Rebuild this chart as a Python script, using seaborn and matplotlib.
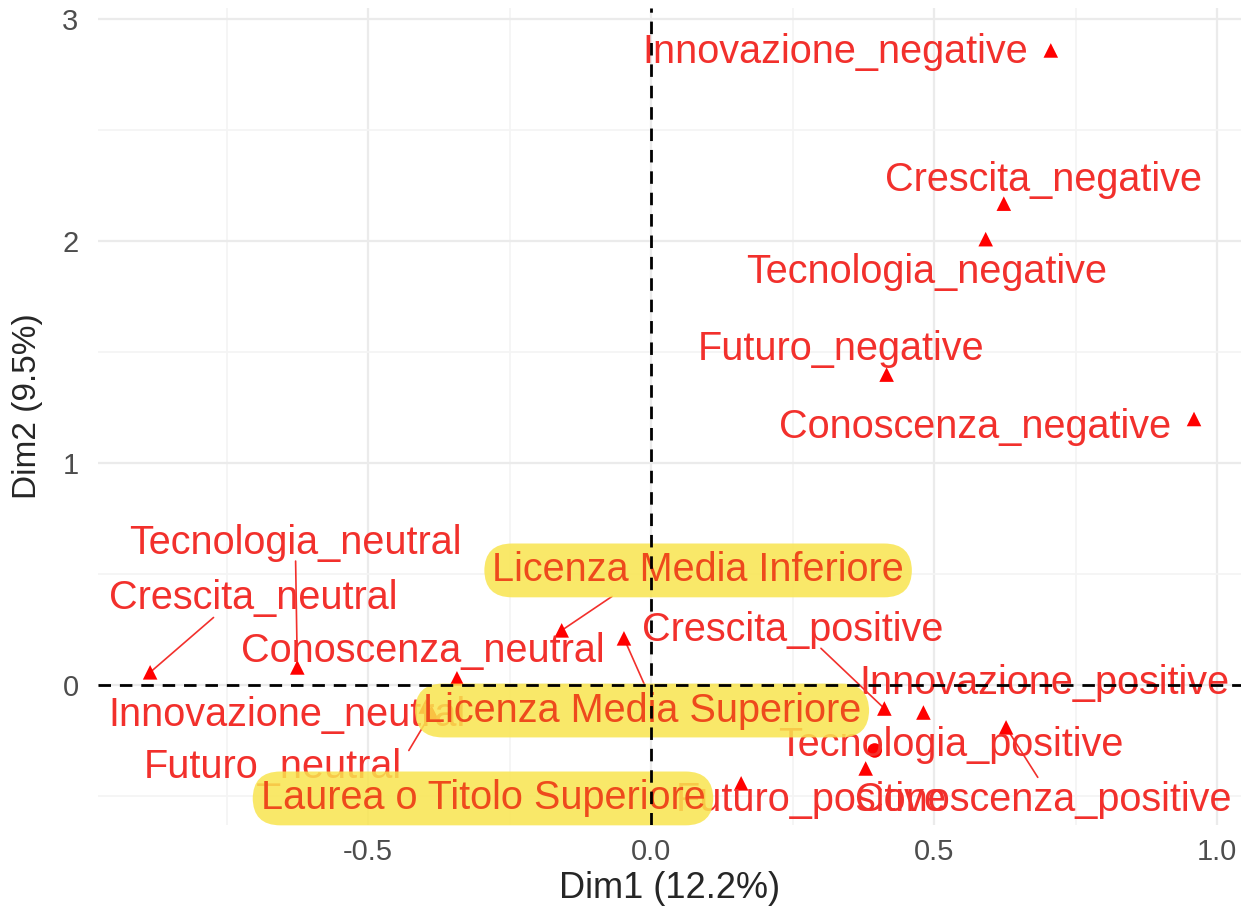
import matplotlib
matplotlib.use("Agg")
import matplotlib.pyplot as plt
import pandas as pd
import seaborn as sns

# active categories: coordinates on Dim1 / Dim2
categories = ["Innovazione_negative", "Crescita_negative", "Tecnologia_negative",
              "Futuro_negative", "Conoscenza_negative",
              "Tecnologia_neutral", "Crescita_neutral", "Conoscenza_neutral",
              "Innovazione_neutral", "Futuro_neutral",
              "Crescita_positive", "Innovazione_positive", "Conoscenza_positive",
              "Tecnologia_positive", "Futuro_positive"]
dim1 = [0.706, 0.623, 0.591, 0.416, 0.959,
        -0.625, -0.885, -0.343, -0.398, -0.388,
        0.412, 0.481, 0.627, 0.379, 0.159]
dim2 = [2.86, 2.17, 2.01, 1.40, 1.20,
        0.081, 0.059, 0.032, -0.095, -0.122,
        -0.104, -0.122, -0.189, -0.374, -0.441]

# supplementary categories (education level)
sup_names = ["Licenza Media Inferiore", "Licenza Media Superiore", "Laurea o Titolo Superiore"]
sup_dim1 = [-0.158, -0.048, 0.395]
sup_dim2 = [0.248, 0.212, -0.293]

xlabel = "Dim1 (12.2%)"
ylabel = "Dim2 (9.5%)"

# label placement (repel-like), in data units
label_pos = {
    "Innovazione_negative": (0.326, 2.851),
    "Crescita_negative": (0.694, 2.275),
    "Tecnologia_negative": (0.487, 1.860),
    "Futuro_negative": (0.336, 1.514),
    "Conoscenza_negative": (0.573, 1.162),
    "Tecnologia_neutral": (-0.628, 0.640),
    "Crescita_neutral": (-0.703, 0.392),
    "Conoscenza_neutral": (-0.404, 0.153),
    "Innovazione_neutral": (-0.644, -0.135),
    "Futuro_neutral": (-0.669, -0.369),
    "Crescita_positive": (0.250, 0.248),
    "Innovazione_positive": (0.694, 0.009),
    "Tecnologia_positive": (0.529, -0.270),
    "Futuro_positive": (0.283, -0.518),
    "Conoscenza_positive": (0.692, -0.518),
    "Licenza Media Inferiore": (0.083, 0.518),
    "Licenza Media Superiore": (-0.016, -0.113),
    "Laurea o Titolo Superiore": (-0.297, -0.509),
}
# connector start points for labels pushed away from their point
seg_start = {
    "Crescita_neutral": (-0.773, 0.306),
    "Tecnologia_neutral": (-0.628, 0.560),
    "Futuro_neutral": (-0.428, -0.293),
    "Licenza Media Inferiore": (-0.069, 0.401),
    "Licenza Media Superiore": (-0.012, 0.005),
    "Crescita_positive": (0.300, 0.167),
    "Conoscenza_positive": (0.683, -0.414),
}

RED = "#F2302C"
LAB_FONT = ["Liberation Sans", "DejaVu Sans"]

df = pd.DataFrame({"name": categories, "Dim1": dim1, "Dim2": dim2})
sup = pd.DataFrame({"name": sup_names, "Dim1": sup_dim1, "Dim2": sup_dim2})

sns.set_theme(style="whitegrid")
plt.rcParams["font.family"] = LAB_FONT

fig = plt.figure(figsize=(12.41, 9.17), dpi=100)
ax = fig.add_axes([0.079, 0.100, 0.921, 0.891])

sns.scatterplot(data=df, x="Dim1", y="Dim2", marker="^", s=110, color="red",
                edgecolor="none", ax=ax, zorder=3)
sns.scatterplot(data=sup.iloc[:2], x="Dim1", y="Dim2", marker="^", s=110, color="red",
                edgecolor="none", ax=ax, zorder=3)
sns.scatterplot(data=sup.iloc[2:], x="Dim1", y="Dim2", marker="o", s=110, color="red",
                edgecolor="none", ax=ax, zorder=3)

allpts = pd.concat([df, sup])
for name, (sx, sy) in seg_start.items():
    row = allpts[allpts["name"] == name].iloc[0]
    ax.plot([sx, row["Dim1"]], [sy, row["Dim2"]], color=RED, lw=1.2, zorder=2.5)

for name, (lx, ly) in label_pos.items():
    if name in sup_names:
        ax.text(lx, ly, name, ha="center", va="center", fontsize=28.5, color="#EE4A1C",
                zorder=4,
                bbox=dict(boxstyle="round,pad=0.2,rounding_size=0.7",
                          fc="#F9E54F", ec="none", alpha=0.85))
    else:
        ax.text(lx, ly, name, ha="center", va="center", fontsize=28.5, color=RED, zorder=4)

ax.axhline(0, color="black", ls=(0, (4.5, 3.2)), lw=2.0, zorder=5)
ax.axvline(0, color="black", ls=(0, (4.5, 3.2)), lw=2.0, zorder=5)

ax.set_xlim(-0.977, 1.042)
ax.set_ylim(-0.63, 3.05)
ax.set_xticks([-0.5, 0.0, 0.5, 1.0])
ax.set_xticklabels(["-0.5", "0.0", "0.5", "1.0"])
ax.set_yticks([0, 1, 2, 3])
ax.set_xticks([-0.75, -0.25, 0.25, 0.75], minor=True)
ax.set_yticks([-0.5, 0.5, 1.5, 2.5], minor=True)
ax.grid(which="major", color="#EBEBEB", lw=1.6)
ax.grid(which="minor", color="#F4F4F4", lw=1.2)
for s in ax.spines.values():
    s.set_visible(False)
ax.tick_params(axis="both", which="major", length=6, width=1.6, color="#333333",
               labelsize=21, labelcolor="#4D4D4D")
ax.tick_params(axis="x", pad=3)
ax.tick_params(axis="y", pad=8)
ax.tick_params(which="minor", length=0)

ax.set_xlabel(xlabel, fontsize=26, labelpad=4)
ax.set_ylabel(ylabel, fontsize=24)
ax.yaxis.set_label_coords(-0.048, 0.513)

fig.savefig("out.png", dpi=100)
